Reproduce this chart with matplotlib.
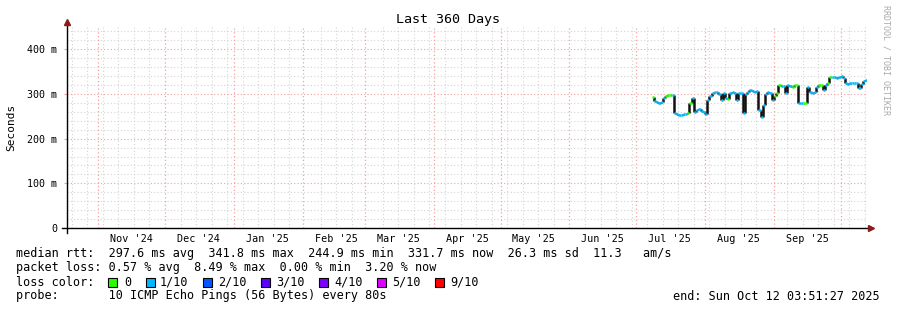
import datetime as dt
import matplotlib
matplotlib.use('Agg')
import matplotlib.dates as mdates
import numpy as np
import pandas as pd
from matplotlib import pyplot as plt
from matplotlib.lines import Line2D
from matplotlib.patches import Rectangle

plt.rcParams['font.family'] = ['DejaVu Sans Mono']

# median rtt per day (ms), from 2025-07-08
rtt_ms = [294, 285, 281, 280, 283, 290, 295, 297, 297, 297,
          258, 255, 253, 253, 255, 255, 257, 280, 291, 260,
          264, 266, 263, 260, 255, 286, 296, 302, 304, 304,
          300, 286, 302, 292, 289, 302, 304, 303, 286, 302,
          302, 257, 300, 304, 309, 306, 304, 306, 264, 248,
          275, 300, 304, 302, 286, 295, 302, 320, 318, 318,
          302, 320, 317, 315, 320, 320, 280, 280, 280, 280,
          315, 305, 302, 304, 316, 320, 320, 309, 320, 324,
          338, 338, 337, 335, 338, 340, 335, 325, 322, 324,
          324, 324, 324, 313, 322, 329, 331]
# loss class per day: 0 = no loss, 1 = 1/10
loss_cls = [0, 1, 1, 1, 1, 1, 0, 0, 0, 1,
            1, 1, 1, 1, 1, 1, 0, 0, 1, 1,
            1, 1, 1, 1, 1, 1, 1, 1, 1, 1,
            1, 1, 1, 1, 0, 1, 1, 1, 1, 1,
            1, 1, 1, 1, 1, 1, 1, 1, 1, 1,
            1, 1, 1, 1, 1, 0, 0, 0, 1, 1,
            1, 1, 1, 0, 0, 0, 1, 1, 0, 0,
            1, 1, 1, 1, 1, 0, 0, 1, 1, 0,
            0, 1, 1, 1, 1, 1, 1, 1, 1, 1,
            1, 1, 1, 1, 1, 1, 1]
data_start = '2025-07-08'

loss_labels = ['0', '1/10', '2/10', '3/10', '4/10', '5/10', '9/10']
loss_colors = ['#26ff00', '#00b8ff', '#0059ff', '#5e00ff', '#7e00ff', '#dd00ff', '#ff0000']

x_start = dt.datetime(2024, 10, 17, 22, 0)
x_end = x_start + dt.timedelta(days=360)

W, H = 897, 310
fig = plt.figure(figsize=(W / 100, H / 100), dpi=100)


def fx(px):
    return px / W


def fy(py):
    return 1 - py / H


ax = fig.add_axes([fx(67), fy(228), 800 / W, 201 / H])
ax.set_xlim(x_start, x_end)
ax.set_ylim(0, 0.45)
for s in ax.spines.values():
    s.set_visible(False)

# grid
minor_c = '#d4d4d4'
major_c = '#f4a0a0'
for v in np.arange(0.02, 0.45, 0.02):
    is_major = abs(v * 10 - round(v * 10)) < 1e-6
    ax.axhline(v, color=major_c if is_major else minor_c, lw=0.8,
               ls=(0, (1, 2)), zorder=0.5 if is_major else 0)
months = pd.date_range(x_start, x_end, freq='MS', normalize=True)
months = months[months > pd.Timestamp(x_start)]
for d in pd.date_range(x_start, x_end, freq='W-SUN', normalize=True):
    if min(abs((d - m).total_seconds()) for m in months) < 2 * 86400:
        continue
    ax.axvline(d, color=minor_c, lw=0.8, ls=(0, (1, 2)), zorder=0)
for d in months:
    ax.axvline(d, color=major_c, lw=0.9, ls=(0, (1, 2)), zorder=0.6)

# data
days = pd.date_range(data_start, periods=len(rtt_ms), freq='D')
t0 = mdates.date2num(days)
vals = np.array(rtt_ms) / 1000.0
cols = [loss_colors[c] for c in loss_cls]
ax.hlines(vals, t0, t0 + 1, colors=cols, lw=1.8, zorder=3)
ax.vlines(t0[1:], vals[:-1], vals[1:], colors='#111111', lw=1.8, zorder=2)

# ticks
ax.set_yticks([0, 0.1, 0.2, 0.3, 0.4])
ax.set_yticklabels(['0', '100 m', '200 m', '300 m', '400 m'])
ax.tick_params(axis='y', length=2, color=major_c, pad=5, labelsize=7.2)
mids = pd.date_range('2024-11-01', '2025-09-01', freq='MS') + pd.Timedelta(days=15)
ax.set_xticks(mids)
ax.set_xticklabels([d.strftime("%b '%y") for d in mids])
ax.tick_params(axis='x', length=0, pad=4, labelsize=7.3)

# axes lines with arrows
ax_c = '#8b1a1a'
fig.add_artist(Line2D([fx(67), fx(67)], [fy(233), fy(24)], color='black', lw=1))
fig.add_artist(Line2D([fx(62), fx(870)], [fy(228), fy(228)], color='black', lw=1))
fig.add_artist(Line2D([fx(67)], [fy(22)], marker='^', ms=4, color=ax_c))
fig.add_artist(Line2D([fx(871)], [fy(228)], marker='>', ms=4, color=ax_c))

fig.text(fx(448), fy(19), 'Last 360 Days', ha='center', va='center', size=9.6)
fig.text(fx(11), fy(127), 'Seconds', rotation=90, ha='center', va='center', size=8)
fig.text(fx(886), fy(5), 'RRDTOOL / TOBI OETIKER', rotation=-90, ha='center',
         va='top', size=6, color='#aaaaaa')

fs = 8.5
fig.text(fx(16), fy(254), 'median rtt:  297.6 ms avg  341.8 ms max  244.9 ms min  '
         '331.7 ms now  26.3 ms sd  11.3   am/s', va='center', size=fs)
fig.text(fx(16), fy(268), 'packet loss: 0.57 % avg  8.49 % max  0.00 % min  3.20 % now',
         va='center', size=fs)
fig.text(fx(16), fy(282), 'loss color:', va='center', size=fs)
box_x = [108, 146, 203, 261, 319, 377, 435]
lab_x = [124, 160, 218, 276, 334, 392, 450]
for bx, lx, lab, c in zip(box_x, lab_x, loss_labels, loss_colors):
    fig.add_artist(Rectangle((fx(bx), fy(287)), 9 / W, 9 / H, facecolor=c,
                             edgecolor='black', lw=0.8))
    fig.text(fx(lx), fy(282), lab, va='center', size=fs)
fig.text(fx(16), fy(296), 'probe:       10 ICMP Echo Pings (56 Bytes) every 80s',
         va='center', size=fs)
fig.text(fx(880), fy(296), 'end: Sun Oct 12 03:51:27 2025', ha='right', va='center', size=fs)

fig.savefig('out.png', dpi=100)
